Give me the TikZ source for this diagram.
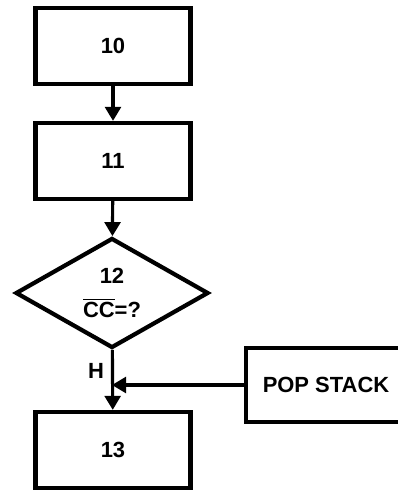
\documentclass[tikz,border=0pt]{standalone}
\usepackage{fontspec}
\setmainfont{Liberation Sans}
\usetikzlibrary{shapes.geometric,arrows.meta}
\tikzset{
  box/.style={draw, line width=2.4pt, minimum width=3.1cm, minimum height=1.52cm,
    font=\bfseries\fontsize{12.5}{14}\selectfont},
  decide/.style={draw, diamond, line width=2.4pt, inner sep=0pt, minimum width=3.86cm,
    minimum height=2.2cm, align=center, font=\bfseries\fontsize{12.5}{19}\selectfont},
  flow/.style={line width=1.8pt, -{Triangle[width=9pt,length=8pt]}}
}
\begin{document}
\begin{tikzpicture}[x=0.02cm,y=-0.02cm]
      \useasboundingbox (0,0) rectangle (398,493);
      \draw
        (113,46) node[box] (10){10}
        (113,161) node[box] (11){11}
        (112,293) node[decide] (12){12\\$\overline{\mbox{CC}}$=?}
        (113,450) node[box] (13){13}
        (326,385) node[box, minimum width=3.2cm, minimum height=1.48cm] (pop){POP STACK};
      \coordinate (join) at (12.south |- pop.west);
      \node[font=\bfseries\fontsize{12.5}{14}\selectfont, left=1pt] at (12.south |- 0,371) (h){H};
      \begin{scope}[flow]
        \draw (10) to (11);
        \draw (11) to (12);
        \draw (12) to (13);
        \draw (pop) to (join);
      \end{scope}
    \end{tikzpicture}
\end{document}
